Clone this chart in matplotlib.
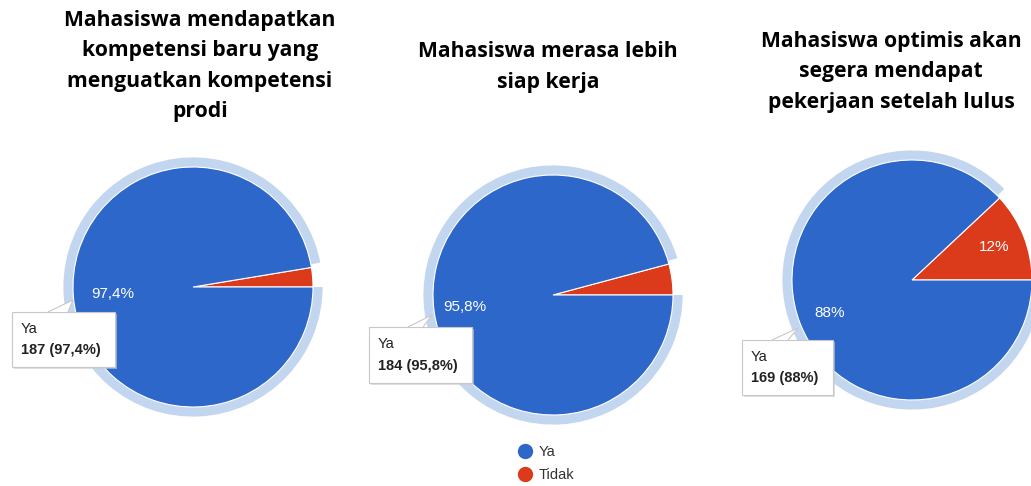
import math
import matplotlib.pyplot as plt
from matplotlib.patches import Wedge, Rectangle, Polygon
from matplotlib.lines import Line2D

W, H = 1031, 486

titles = [
    "Mahasiswa mendapatkan\nkompetensi baru yang\nmenguatkan kompetensi\nprodi",
    "Mahasiswa merasa lebih\nsiap kerja",
    "Mahasiswa optimis akan\nsegera mendapat\npekerjaan setelah lulus",
]
labels = ["Ya", "Tidak"]
ya_counts = [187, 184, 169]
tidak_counts = [5, 8, 23]

BLUE = "#2d67c9"
RED = "#db3a1b"
RING = "#c3d6ef"

# layout in pixels (image coords, y down)
centers = [(193, 287), (553, 295), (912, 280)]
title_pos = [(200, 66), (548, 67), (891, 72)]
pct_r = [0.67, 0.74, 0.74]
tip_boxes = [(12, 312, 103, 55), (369, 327, 103, 56), (742, 340, 91, 55)]
tip_ptrs = [((48, 312), (68, 312), (73, 300)),
            ((408, 327), (423, 327), (432, 315)),
            ((772, 340), (788, 340), (798, 328))]


def fx(x):
    return x / W


def fy(y):
    return 1 - y / H


def fmt_pct(p):
    s = f"{p:.1f}"
    if s.endswith(".0"):
        s = s[:-2]
    return s.replace(".", ",") + "%"


fig = plt.figure(figsize=(W / 100, H / 100), dpi=100)
fig.patch.set_facecolor("white")

px = 115  # pixels per unit radius
size = 300
for i in range(3):
    cx, cy = centers[i]
    ax = fig.add_axes([fx(cx - size / 2), fy(cy + size / 2), size / W, size / H])
    ax.set_xlim(-size / 2 / px, size / 2 / px)
    ax.set_ylim(-size / 2 / px, size / 2 / px)
    ax.set_aspect("equal")
    ax.axis("off")

    vals = [tidak_counts[i], ya_counts[i]]
    total = sum(vals)

    # hover highlight ring around the "Ya" slice
    red_end = 360 * vals[0] / total
    ax.add_patch(Wedge((0, 0), 1.08, red_end + 1.5, 360, width=0.085,
                       facecolor=RING, edgecolor="none"))

    ax.pie(vals, colors=[RED, BLUE], startangle=0, counterclock=True,
           radius=1, wedgeprops=dict(edgecolor="white", linewidth=0.8))

    # slice labels
    start = 0
    for v in vals:
        pct = 100 * v / total
        ang = start + 360 * v / total / 2
        start += 360 * v / total
        if pct < 10:
            continue
        r = pct_r[i]
        ax.text(r * math.cos(math.radians(ang)), r * math.sin(math.radians(ang)),
                fmt_pct(pct), color="white", fontsize=11, ha="center", va="center",
                family="Liberation Sans")

    # titles
    tx, ty = title_pos[i]
    fig.text(fx(tx), fy(ty), titles[i], ha="center", va="center", fontsize=15.2,
             fontweight="bold", family="Open Sans", linespacing=1.58, color="black")

    # tooltip
    bx, by, bw, bh = tip_boxes[i]
    fig.patches.append(Rectangle((fx(bx + 1.5), fy(by + bh + 1.5)), fx(bw), bh / H,
                                 transform=fig.transFigure, facecolor="#cccccc",
                                 edgecolor="none", alpha=0.6))
    fig.patches.append(Rectangle((fx(bx), fy(by + bh)), fx(bw), bh / H,
                                 transform=fig.transFigure, facecolor="white",
                                 edgecolor="#c8c8c8", linewidth=0.8))
    p1, p2, p3 = tip_ptrs[i]
    fig.patches.append(Polygon([(fx(p1[0]), fy(p1[1])), (fx(p3[0]), fy(p3[1])),
                                (fx(p2[0]), fy(p2[1]))],
                               closed=False, transform=fig.transFigure, facecolor="white",
                               edgecolor="#c8c8c8", linewidth=0.8))
    fig.text(fx(bx + 9), fy(by + 17), labels[0], fontsize=10.5, color="#222222",
             family="Liberation Sans", va="center", ha="left")
    fig.text(fx(bx + 9), fy(by + bh - 17),
             f"{ya_counts[i]} ({fmt_pct(100 * ya_counts[i] / total)})",
             fontsize=10.5, color="#222222", fontweight="bold",
             family="Liberation Sans", va="center", ha="left")

handles = [Line2D([], [], marker="o", linestyle="none", markersize=10,
                  markerfacecolor=c, markeredgecolor=c) for c in (BLUE, RED)]
fig.legend(handles, labels, loc="upper left", bbox_to_anchor=(fx(507), fy(438)),
           frameon=False, labelspacing=0.6, handletextpad=0.3,
           handlelength=1.4, borderpad=0, prop={"family": "Liberation Sans", "size": 10.5},
           labelcolor="#333333")

fig.savefig("out.png", dpi=100)
